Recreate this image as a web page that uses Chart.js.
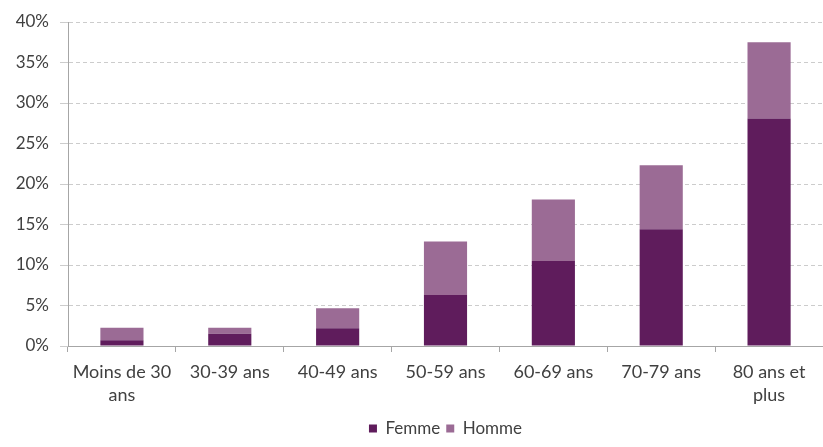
<!DOCTYPE html>
<html>
<head>
<meta charset="utf-8">
<script src="https://cdn.jsdelivr.net/npm/chart.js@4.4.0/dist/chart.umd.min.js"></script>
<style>
  html, body { margin: 0; padding: 0; background: #ffffff; }
  #wrap { width: 823px; height: 447px; position: relative; }
</style>
</head>
<body>
<div id="wrap"><canvas id="c"></canvas></div>
<script>
const categories = [["Moins de 30", "ans"], "30-39 ans", "40-49 ans", "50-59 ans", "60-69 ans", "70-79 ans", ["80 ans et", "plus"]];
const femme = [0.7, 1.5, 2.2, 6.3, 10.5, 14.4, 28.1];
const homme = [1.55, 0.75, 2.45, 6.6, 7.6, 7.9, 9.4];
const yTicks = [0, 5, 10, 15, 20, 25, 30, 35, 40];

const FONT = "Lato";
const TEXT = "#404040";

new Chart(document.getElementById('c'), {
  type: 'bar',
  data: {
    labels: categories,
    datasets: [
      { label: 'Femme', data: femme, backgroundColor: '#5f1c5c', barPercentage: 0.4, categoryPercentage: 1.0 },
      { label: 'Homme', data: homme, backgroundColor: '#9b6b95', barPercentage: 0.4, categoryPercentage: 1.0 }
    ]
  },
  options: {
    responsive: true,
    maintainAspectRatio: false,
    animation: false,
    devicePixelRatio: 1,
    layout: { padding: { top: 22, right: 0, left: 0, bottom: 0 } },
    plugins: {
      legend: {
        position: 'bottom',
        fullSize: false,
        labels: {
          font: { family: FONT, size: 17 },
          color: TEXT,
          boxWidth: 8,
          boxHeight: 8,
          padding: 6
        }
      },
      tooltip: { enabled: false }
    },
    scales: {
      x: {
        stacked: true,
        grid: { display: true, drawOnChartArea: false, drawTicks: true, tickLength: 6, color: '#a6a6a6', offset: true },
        border: { display: true, color: '#a6a6a6', width: 1 },
        ticks: { font: { family: FONT, size: 18, lineHeight: 1.3 }, color: TEXT, padding: 8, maxRotation: 0, autoSkip: false },
        afterFit: (s) => { s.height = 68; }
      },
      y: {
        stacked: true,
        min: 0,
        max: 40,
        afterBuildTicks: (s) => { s.ticks = yTicks.map(v => ({ value: v })); },
        grid: { color: '#cccccc', tickLength: 8, lineWidth: 1 },
        border: { display: true, color: '#a6a6a6', width: 1, dash: [4, 3] },
        ticks: {
          font: { family: FONT, size: 17 },
          color: TEXT,
          padding: 11,
          callback: (v) => v + '%'
        },
        afterFit: (s) => { s.width = 68; }
      }
    }
  }
});
</script>
</body>
</html>
